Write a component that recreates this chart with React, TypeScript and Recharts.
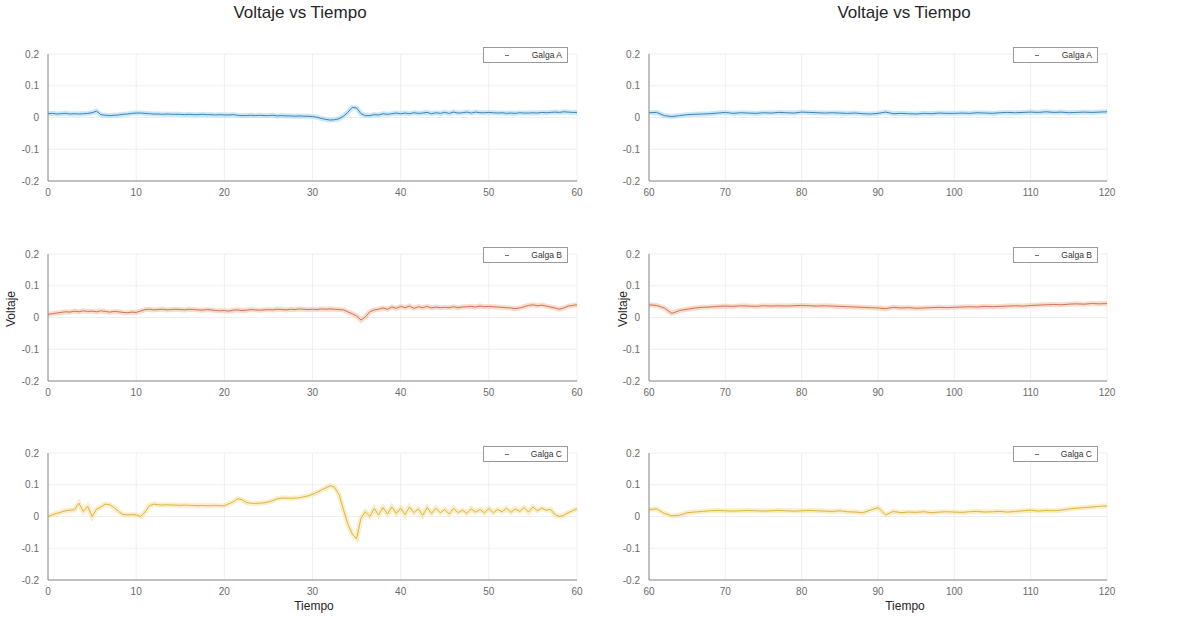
import React from 'react'
import { LineChart, Line, XAxis, YAxis, CartesianGrid, Legend } from 'recharts'

// sample times: left column every 0.5 s, right column every 1 s
const leftTime = Array.from({ length: 121 }, (_, i) => i * 0.5)
const rightTime = Array.from({ length: 61 }, (_, i) => 60 + i)

const leftXTicks = [0, 10, 20, 30, 40, 50, 60]
const rightXTicks = [60, 70, 80, 90, 100, 110, 120]
const yTicks = [-0.2, -0.1, 0, 0.1, 0.2]

const galgaA_left = [
  0.012, 0.013, 0.011, 0.012, 0.013, 0.011, 0.012, 0.011, 0.012, 0.013,
  0.015, 0.02, 0.009, 0.007, 0.006, 0.007, 0.008, 0.01, 0.011, 0.013,
  0.014, 0.014, 0.013, 0.012, 0.011, 0.011, 0.01, 0.011, 0.01, 0.01,
  0.01, 0.009, 0.01, 0.009, 0.009, 0.01, 0.009, 0.009, 0.008, 0.009,
  0.008, 0.008, 0.009, 0.007, 0.006, 0.006, 0.007, 0.006, 0.007, 0.006,
  0.006, 0.007, 0.005, 0.006, 0.005, 0.005, 0.004, 0.005, 0.004, 0.004,
  0.003, 0.001, -0.003, -0.006, -0.008, -0.007, -0.004, 0.004, 0.016, 0.032,
  0.03, 0.012, 0.006, 0.006, 0.009, 0.008, 0.012, 0.01, 0.012, 0.014,
  0.012, 0.014, 0.012, 0.015, 0.013, 0.014, 0.016, 0.012, 0.015, 0.013,
  0.016, 0.013, 0.017, 0.014, 0.015, 0.017, 0.014, 0.017, 0.015, 0.015,
  0.016, 0.015, 0.014, 0.015, 0.013, 0.014, 0.013, 0.015, 0.014, 0.014,
  0.015, 0.014, 0.016, 0.015, 0.016, 0.017, 0.016, 0.018, 0.017, 0.016,
  0.016,
]
const galgaB_left = [
  0.01, 0.012, 0.014, 0.016, 0.018, 0.017, 0.02, 0.018, 0.021, 0.019,
  0.02, 0.018, 0.021, 0.019, 0.017, 0.019, 0.018, 0.016, 0.015, 0.017,
  0.016, 0.02, 0.025, 0.026, 0.024, 0.025, 0.026, 0.024, 0.025, 0.026,
  0.025, 0.024, 0.026, 0.025, 0.024, 0.023, 0.025, 0.024, 0.022, 0.021,
  0.022, 0.02, 0.023, 0.024, 0.022, 0.023, 0.025, 0.024, 0.023, 0.024,
  0.025, 0.024, 0.026, 0.025, 0.024, 0.026, 0.025, 0.027, 0.026, 0.025,
  0.026, 0.025, 0.027, 0.026, 0.027, 0.026, 0.025, 0.024, 0.018, 0.012,
  0.005, -0.008, 0.002, 0.018, 0.024, 0.026, 0.03, 0.026, 0.033, 0.029,
  0.035, 0.031, 0.036, 0.029, 0.034, 0.031, 0.035, 0.03, 0.033, 0.031,
  0.032, 0.031, 0.034, 0.031, 0.033, 0.034, 0.035, 0.033, 0.036, 0.034,
  0.035, 0.034, 0.033, 0.032, 0.031, 0.03, 0.028, 0.03, 0.034, 0.038,
  0.04, 0.037, 0.039, 0.036, 0.033, 0.03, 0.026, 0.03, 0.036, 0.038,
  0.04,
]
const galgaC_left = [
  0.0, 0.005, 0.01, 0.014, 0.018, 0.02, 0.021, 0.042, 0.016, 0.032,
  0.0, 0.023, 0.03, 0.039, 0.037, 0.028, 0.016, 0.006, 0.005, 0.006,
  0.005, 0.0, 0.014, 0.034, 0.039, 0.037, 0.036, 0.037, 0.036, 0.036,
  0.035, 0.036, 0.035, 0.035, 0.034, 0.035, 0.034, 0.034, 0.035, 0.034,
  0.034, 0.04, 0.046, 0.056, 0.053, 0.044, 0.042, 0.041, 0.042, 0.043,
  0.046, 0.05, 0.056, 0.058, 0.058, 0.057, 0.058, 0.059, 0.062, 0.065,
  0.07, 0.076, 0.083, 0.09, 0.097, 0.092, 0.07, 0.023, -0.023, -0.055,
  -0.07, -0.005, 0.015, 0.0, 0.025, 0.005, 0.028, 0.008, 0.03, 0.01,
  0.026, 0.006, 0.03, 0.012, 0.024, 0.004, 0.028, 0.01, 0.026, 0.012,
  0.022, 0.008, 0.026, 0.012, 0.02, 0.01, 0.024, 0.014, 0.022, 0.012,
  0.025, 0.012, 0.022, 0.015, 0.026, 0.013, 0.024, 0.016, 0.028, 0.014,
  0.03, 0.018, 0.026, 0.02, 0.022, 0.006, 0.0, 0.004, 0.012, 0.018,
  0.025,
]

const galgaA_right = [
  0.015, 0.016, 0.006, 0.003, 0.006, 0.009, 0.01, 0.011, 0.012, 0.014,
  0.016, 0.013, 0.015, 0.014, 0.013, 0.015, 0.014, 0.016, 0.015, 0.014,
  0.017, 0.016, 0.015, 0.014, 0.015, 0.014, 0.013, 0.014, 0.012, 0.011,
  0.013, 0.017, 0.012, 0.013, 0.012, 0.011, 0.013, 0.012, 0.014, 0.013,
  0.013, 0.014, 0.013, 0.015, 0.014, 0.013, 0.015, 0.016, 0.015, 0.016,
  0.017, 0.016, 0.018, 0.016, 0.017, 0.015, 0.016, 0.017, 0.016, 0.017,
  0.018,
]
const galgaB_right = [
  0.04, 0.038, 0.03, 0.013, 0.022, 0.026, 0.03, 0.032, 0.033, 0.035,
  0.036, 0.035, 0.037, 0.036, 0.035, 0.037, 0.036, 0.037, 0.036, 0.037,
  0.038, 0.037, 0.036, 0.037, 0.036, 0.035, 0.034, 0.033, 0.032, 0.031,
  0.03, 0.028, 0.032, 0.03, 0.031, 0.029, 0.03, 0.031, 0.032, 0.031,
  0.032, 0.033, 0.034, 0.033, 0.035, 0.034, 0.035, 0.036, 0.037, 0.036,
  0.038, 0.039, 0.04, 0.041, 0.04, 0.042, 0.043, 0.042, 0.044, 0.043,
  0.044,
]
const galgaC_right = [
  0.022, 0.024, 0.01, 0.002, 0.004, 0.012, 0.014, 0.016, 0.018, 0.019,
  0.018, 0.017, 0.018, 0.019, 0.018, 0.017, 0.018, 0.019, 0.018, 0.017,
  0.018, 0.019, 0.018, 0.017, 0.016, 0.018, 0.015, 0.014, 0.012, 0.02,
  0.028, 0.005, 0.016, 0.012, 0.014, 0.013, 0.015, 0.012, 0.014, 0.015,
  0.014, 0.013, 0.015, 0.016, 0.014, 0.015, 0.016, 0.014, 0.016, 0.018,
  0.02, 0.017, 0.019, 0.018, 0.02, 0.024, 0.026, 0.028, 0.03, 0.032,
  0.033,
]

const FONT = '"Liberation Sans", Arial, Helvetica, sans-serif'
const TICK = { fontSize: 10, fill: '#6a6a6a', fontFamily: FONT }

const colors = {
  A: { core: '#3f82b4', band: '#9fd4f0' },
  B: { core: '#cf7452', band: '#f3c0a6' },
  C: { core: '#dcb440', band: '#f6e09a' },
}

const PLOT_H = 143
const rowTops = [38, 238, 437]

function toRows(time: number[], values: number[]) {
  return time.map((t, i) => ({ t, v: values[i] }))
}

function LegendBox({ label }: { label: string }) {
  return (
    <div style={{
      width: 85, height: 16, border: '1px solid #9a9a9a', background: '#fff', boxSizing: 'border-box',
      display: 'flex', alignItems: 'center', fontFamily: FONT, fontSize: 8.5, color: '#333',
    }}>
      <span style={{ display: 'inline-block', width: 4, height: 1, background: '#777', marginLeft: 21 }} />
      <span style={{ marginLeft: 'auto', marginRight: 5 }}>{label}</span>
    </div>
  )
}

function Panel({ data, ticks, domain, name, color, left, top, mLeft, mRight }: any) {
  return (
    <div style={{ position: 'absolute', left, top: top - 8 }}>
      <LineChart width={600} height={PLOT_H + 8 + 22} data={data}
        margin={{ top: 8, right: mRight, left: mLeft, bottom: 0 }}>
        <CartesianGrid stroke="#ebebeb" strokeWidth={0.8} />
        <XAxis dataKey="t" type="number" domain={domain} ticks={ticks} height={22}
          tick={TICK} tickLine={false} axisLine={{ stroke: '#8a8a8a' }} tickMargin={2} />
        <YAxis type="number" domain={[-0.2, 0.2]} ticks={yTicks} width={40}
          tick={TICK} tickLine={false} axisLine={{ stroke: '#8a8a8a' }} tickMargin={3} allowDataOverflow />
        <Legend verticalAlign="top" align="right"
          wrapperStyle={{ top: 17, right: mRight + 9, width: 'auto', left: 'auto' }}
          content={() => <LegendBox label={name} />} />
        <Line dataKey="v" type="linear" stroke={color.band} strokeWidth={5} strokeOpacity={0.55}
          dot={false} isAnimationActive={false} legendType="none" />
        <Line dataKey="v" type="linear" stroke={color.core} strokeWidth={1}
          dot={false} isAnimationActive={false} legendType="none" />
      </LineChart>
    </div>
  )
}

const textStyle: React.CSSProperties = { position: 'absolute', fontFamily: FONT, color: '#262626', whiteSpace: 'nowrap' }

export default function App() {
  const left = [
    { data: toRows(leftTime, galgaA_left), name: 'Galga A', color: colors.A },
    { data: toRows(leftTime, galgaB_left), name: 'Galga B', color: colors.B },
    { data: toRows(leftTime, galgaC_left), name: 'Galga C', color: colors.C },
  ]
  const right = [
    { data: toRows(rightTime, galgaA_right), name: 'Galga A', color: colors.A },
    { data: toRows(rightTime, galgaB_right), name: 'Galga B', color: colors.B },
    { data: toRows(rightTime, galgaC_right), name: 'Galga C', color: colors.C },
  ]
  return (
    <div style={{ position: 'absolute', left: 0, top: 0, width: 1200, height: 621, background: '#fff', overflow: 'hidden' }}>
      <div style={{ ...textStyle, left: 300, top: 3, transform: 'translateX(-50%)', fontSize: 17 }}>Voltaje vs Tiempo</div>
      <div style={{ ...textStyle, left: 904, top: 3, transform: 'translateX(-50%)', fontSize: 17 }}>Voltaje vs Tiempo</div>
      {left.map((p, i) => (
        <Panel key={'l' + i} {...p} ticks={leftXTicks} domain={[0, 60]} left={0} top={rowTops[i]} mLeft={8} mRight={23} />
      ))}
      {right.map((p, i) => (
        <Panel key={'r' + i} {...p} ticks={rightXTicks} domain={[60, 120]} left={600} top={rowTops[i]} mLeft={9} mRight={93} />
      ))}
      <div style={{ ...textStyle, left: 11, top: 309, transform: 'translate(-50%, -50%) rotate(-90deg)', fontSize: 12 }}>Voltaje</div>
      <div style={{ ...textStyle, left: 623, top: 309, transform: 'translate(-50%, -50%) rotate(-90deg)', fontSize: 12 }}>Voltaje</div>
      <div style={{ ...textStyle, left: 314, top: 599, transform: 'translateX(-50%)', fontSize: 12 }}>Tiempo</div>
      <div style={{ ...textStyle, left: 905, top: 599, transform: 'translateX(-50%)', fontSize: 12 }}>Tiempo</div>
    </div>
  )
}
